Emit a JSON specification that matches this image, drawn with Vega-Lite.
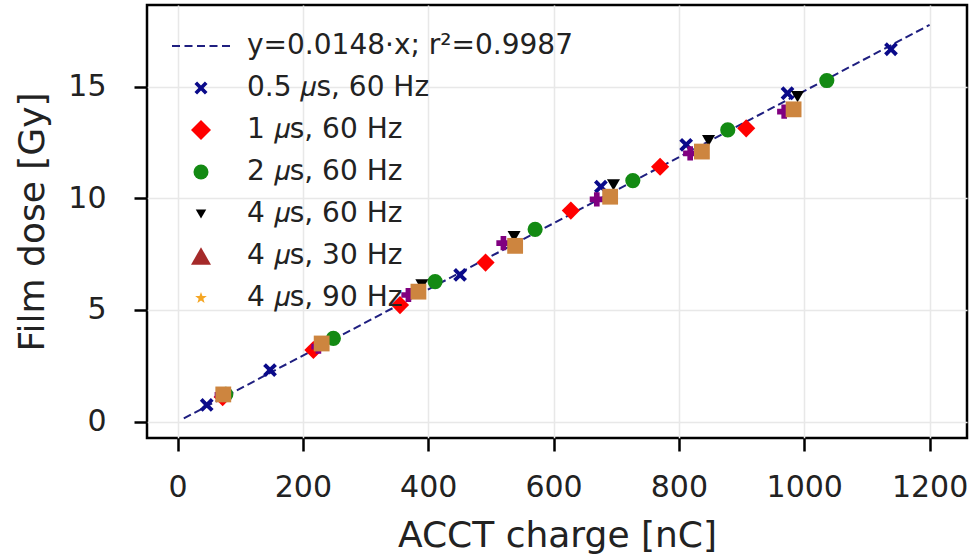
{
  "$schema": "https://vega.github.io/schema/vega-lite/v6.json",
  "width": 820,
  "height": 433,
  "autosize": {"type": "none"},
  "padding": {"left": 147, "top": 5, "right": 13, "bottom": 120},
  "background": "white",
  "config": {
    "font": "DejaVu Sans",
    "view": {"stroke": "black", "strokeWidth": 2.5},
    "axis": {
      "domain": false,
      "tickColor": "black",
      "tickWidth": 2.5,
      "tickSize": 13,
      "labelFont": "DejaVu Sans",
      "labelFontSize": 30,
      "labelColor": "#222",
      "titleFont": "DejaVu Sans",
      "titleFontSize": 36,
      "titleFontWeight": "normal",
      "titleColor": "#222",
      "gridColor": "#e8e8e8",
      "gridWidth": 1.5
    },
    "point": {"filled": true, "opacity": 1}
  },
  "datasets": {
    "pts": [
      {"series": "0.5 𝜇s, 60 Hz", "q": 46.6, "d": 0.75},
      {"series": "0.5 𝜇s, 60 Hz", "q": 147.6, "d": 2.31},
      {"series": "0.5 𝜇s, 60 Hz", "q": 450.9, "d": 6.57},
      {"series": "0.5 𝜇s, 60 Hz", "q": 675.5, "d": 10.52},
      {"series": "0.5 𝜇s, 60 Hz", "q": 811.6, "d": 12.39},
      {"series": "0.5 𝜇s, 60 Hz", "q": 973.3, "d": 14.7},
      {"series": "0.5 𝜇s, 60 Hz", "q": 1138.4, "d": 16.67},
      {"series": "1 𝜇s, 60 Hz", "q": 72, "d": 1.1},
      {"series": "1 𝜇s, 60 Hz", "q": 216.8, "d": 3.21},
      {"series": "1 𝜇s, 60 Hz", "q": 355, "d": 5.22},
      {"series": "1 𝜇s, 60 Hz", "q": 491.5, "d": 7.12},
      {"series": "1 𝜇s, 60 Hz", "q": 627.6, "d": 9.45},
      {"series": "1 𝜇s, 60 Hz", "q": 770, "d": 11.41},
      {"series": "1 𝜇s, 60 Hz", "q": 907.4, "d": 13.13},
      {"series": "2 𝜇s, 60 Hz", "q": 77, "d": 1.22},
      {"series": "2 𝜇s, 60 Hz", "q": 248.7, "d": 3.73},
      {"series": "2 𝜇s, 60 Hz", "q": 411, "d": 6.27},
      {"series": "2 𝜇s, 60 Hz", "q": 570.6, "d": 8.61},
      {"series": "2 𝜇s, 60 Hz", "q": 726.5, "d": 10.79},
      {"series": "2 𝜇s, 60 Hz", "q": 878, "d": 13.06},
      {"series": "2 𝜇s, 60 Hz", "q": 1036, "d": 15.27},
      {"series": "4 𝜇s, 60 Hz", "q": 389.8, "d": 6.12},
      {"series": "4 𝜇s, 60 Hz", "q": 537, "d": 8.28},
      {"series": "4 𝜇s, 60 Hz", "q": 695.6, "d": 10.6},
      {"series": "4 𝜇s, 60 Hz", "q": 847.3, "d": 12.58},
      {"series": "4 𝜇s, 60 Hz", "q": 989.3, "d": 14.55},
      {"series": "4 𝜇s, 30 Hz", "q": 71, "d": 1.18},
      {"series": "4 𝜇s, 30 Hz", "q": 230, "d": 3.5},
      {"series": "4 𝜇s, 30 Hz", "q": 384.4, "d": 5.82},
      {"series": "4 𝜇s, 30 Hz", "q": 538.7, "d": 7.87},
      {"series": "4 𝜇s, 30 Hz", "q": 690.3, "d": 10.07},
      {"series": "4 𝜇s, 30 Hz", "q": 836.7, "d": 12.09},
      {"series": "4 𝜇s, 30 Hz", "q": 983, "d": 13.98},
      {"series": "4 𝜇s, 90 Hz", "q": 72, "d": 1.2},
      {"series": "4 𝜇s, 90 Hz", "q": 231, "d": 3.52},
      {"series": "4 𝜇s, 90 Hz", "q": 385, "d": 5.84},
      {"series": "4 𝜇s, 90 Hz", "q": 539, "d": 7.9},
      {"series": "4 𝜇s, 90 Hz", "q": 691, "d": 10.1},
      {"series": "4 𝜇s, 90 Hz", "q": 837, "d": 12.1},
      {"series": "4 𝜇s, 90 Hz", "q": 984, "d": 14.0}
    ],
    "extra_p": [
      {"q": 70.5, "d": 1.2},
      {"q": 224.8, "d": 3.36},
      {"q": 368.4, "d": 5.67},
      {"q": 520, "d": 7.99},
      {"q": 669, "d": 9.95},
      {"q": 818, "d": 12.01},
      {"q": 968, "d": 13.88}
    ],
    "extra_s": [
      {"q": 73, "d": 1.22},
      {"q": 230, "d": 3.5},
      {"q": 384.4, "d": 5.82},
      {"q": 538.7, "d": 7.87},
      {"q": 690.3, "d": 10.07},
      {"q": 836.7, "d": 12.09},
      {"q": 983, "d": 13.98}
    ],
    "fit": [
      {"series": "y=0.0148·x; r²=0.9987", "q": 10, "d": 0.148},
      {"series": "y=0.0148·x; r²=0.9987", "q": 1200, "d": 17.76}
    ]
  },
  "encoding": {
    "x": {
      "field": "q", "type": "quantitative",
      "scale": {"domain": [-48.7, 1259.7], "nice": false, "zero": false},
      "axis": {"values": [0, 200, 400, 600, 800, 1000, 1200], "format": "d", "title": "ACCT charge [nC]", "labelPadding": 21, "titlePadding": 16}
    },
    "y": {
      "field": "d", "type": "quantitative",
      "scale": {"domain": [-0.73, 18.65], "nice": false, "zero": false},
      "axis": {"values": [0, 5, 10, 15], "title": "Film dose [Gy]", "labelPadding": 28, "titlePadding": 16}
    }
  },
  "layer": [
    {
      "data": {"name": "fit"},
      "mark": {"type": "line", "strokeDash": [8, 4], "strokeWidth": 2},
      "encoding": {
        "color": {"field": "series", "type": "nominal"}
      }
    },
    {
      "data": {"name": "pts"},
      "transform": [{"filter": {"field": "series", "equal": "0.5 𝜇s, 60 Hz"}}],
      "mark": {"type": "point", "size": 190},
      "encoding": {
        "color": {
          "field": "series", "type": "nominal",
          "scale": {
            "domain": ["y=0.0148·x; r²=0.9987", "0.5 𝜇s, 60 Hz", "1 𝜇s, 60 Hz", "2 𝜇s, 60 Hz", "4 𝜇s, 60 Hz", "4 𝜇s, 30 Hz", "4 𝜇s, 90 Hz"],
            "range": ["#1f1f80", "#0a0a8a", "#ff0000", "#138a13", "#000000", "#a52a2a", "#f5a623"]
          },
          "legend": {
            "title": null,
            "orient": "none",
            "legendX": 40,
            "legendY": 27,
            "padding": 0,
            "labelFont": "DejaVu Sans",
            "labelFontSize": 28,
            "labelColor": "#222",
            "labelLimit": 500,
            "labelOffset": 32,
            "rowPadding": 14,
            "symbolStrokeWidth": 0,
            "encode": {
              "symbols": {
                "update": {
                  "size": {"signal": "datum.value === 'y=0.0148·x; r²=0.9987' ? 400 : datum.value === '0.5 𝜇s, 60 Hz' ? 170 : datum.value === '1 𝜇s, 60 Hz' ? 400 : datum.value === '2 𝜇s, 60 Hz' ? 225 : datum.value === '4 𝜇s, 60 Hz' ? 110 : datum.value === '4 𝜇s, 30 Hz' ? 400 : 150"},
                  "opacity": {"value": 1}
                }
              }
            }
          }
        },
        "shape": {
          "field": "series", "type": "nominal",
          "scale": {
            "domain": ["y=0.0148·x; r²=0.9987", "0.5 𝜇s, 60 Hz", "1 𝜇s, 60 Hz", "2 𝜇s, 60 Hz", "4 𝜇s, 60 Hz", "4 𝜇s, 30 Hz", "4 𝜇s, 90 Hz"],
            "range": [
              "M-2.9,-0.1H-2.1V0.1H-2.9Z M-1.65,-0.1H-0.85V0.1H-1.65Z M-0.4,-0.1H0.4V0.1H-0.4Z M0.85,-0.1H1.65V0.1H0.85Z M2.1,-0.1H2.9V0.1H2.1Z",
              "M-1,-0.6L-0.6,-1L0,-0.4L0.6,-1L1,-0.6L0.4,0L1,0.6L0.6,1L0,0.4L-0.6,1L-1,0.6L-0.4,0Z",
              "diamond",
              "circle",
              "triangle-down",
              "triangle-up",
              "M0,-1L0.235,-0.324L0.951,-0.309L0.38,0.124L0.588,0.809L0,0.4L-0.588,0.809L-0.38,0.124L-0.951,-0.309L-0.235,-0.324Z"
            ]
          }
        }
      }
    },
    {
      "data": {"name": "pts"},
      "transform": [{"filter": {"field": "series", "equal": "1 𝜇s, 60 Hz"}}],
      "mark": {"type": "point", "size": 330},
      "encoding": {
        "color": {"field": "series", "type": "nominal"},
        "shape": {"field": "series", "type": "nominal"}
      }
    },
    {
      "data": {"name": "pts"},
      "transform": [{"filter": {"field": "series", "equal": "2 𝜇s, 60 Hz"}}],
      "mark": {"type": "point", "size": 230},
      "encoding": {
        "color": {"field": "series", "type": "nominal"},
        "shape": {"field": "series", "type": "nominal"}
      }
    },
    {
      "data": {"name": "pts"},
      "transform": [{"filter": {"field": "series", "equal": "4 𝜇s, 60 Hz"}}],
      "mark": {"type": "point", "size": 170},
      "encoding": {
        "color": {"field": "series", "type": "nominal"},
        "shape": {"field": "series", "type": "nominal"}
      }
    },
    {
      "data": {"name": "pts"},
      "transform": [{"filter": {"field": "series", "equal": "4 𝜇s, 30 Hz"}}],
      "mark": {"type": "point", "size": 150},
      "encoding": {
        "color": {"field": "series", "type": "nominal"},
        "shape": {"field": "series", "type": "nominal"}
      }
    },
    {
      "data": {"name": "pts"},
      "transform": [{"filter": {"field": "series", "equal": "4 𝜇s, 90 Hz"}}],
      "mark": {"type": "point", "size": 120},
      "encoding": {
        "color": {"field": "series", "type": "nominal"},
        "shape": {"field": "series", "type": "nominal"}
      }
    },
    {
      "data": {"name": "extra_p"},
      "mark": {"type": "point", "shape": "cross", "color": "#800080", "size": 200},
      "encoding": {}
    },
    {
      "data": {"name": "extra_s"},
      "mark": {"type": "point", "shape": "square", "color": "#cd853f", "size": 250},
      "encoding": {}
    }
  ]
}
